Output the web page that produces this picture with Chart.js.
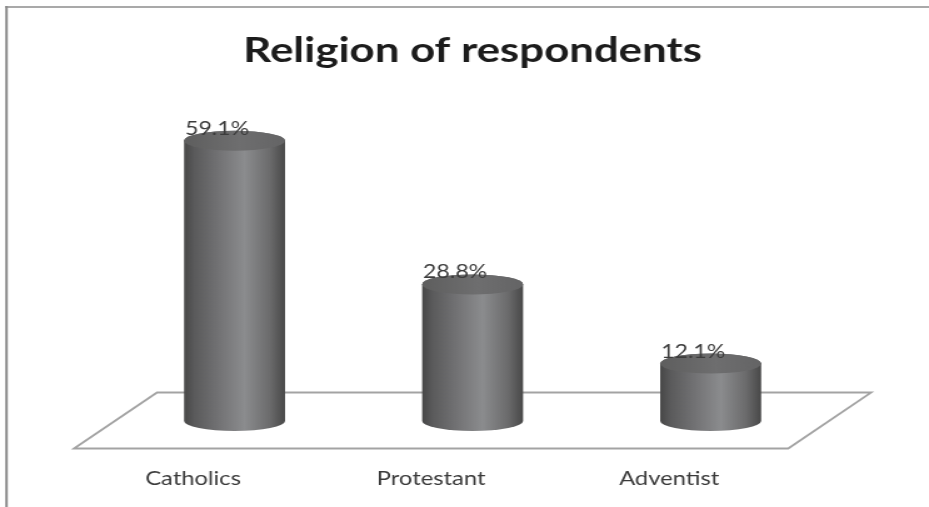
<!DOCTYPE html>
<html>
<head>
<meta charset="utf-8">
<script src="https://cdn.jsdelivr.net/npm/chart.js@4/dist/chart.umd.min.js"></script>
<style>
  html, body { margin: 0; padding: 0; background: #ffffff; overflow: hidden; }
  #wrap { position: relative; width: 929px; height: 507px; overflow: hidden; }
  /* the chart is laid out at a narrower width and widened horizontally */
  #c { display: block; width: 743px; height: 507px; transform: scaleX(1.2503); transform-origin: 0 0; }
</style>
</head>
<body>
<div id="wrap"><canvas id="c" width="743" height="507"></canvas></div>
<script>
// Survey data: share of respondents by religion (percent)
const categories = ['Catholics', 'Protestant', 'Adventist'];
const shares = [59.1, 28.8, 12.1];
const chartTitle = 'Religion of respondents';
const axisMin = 0;
const axisMax = 70;

// Perspective depth of the floor (horizontal / vertical shift of back edge)
const DEPTH_X = 33.2;
const DEPTH_Y = 27.5;
const ELLIPSE_RY = 10;

// Outer frame: left and top edges of the chart box
const framePlugin = {
  id: 'frame',
  beforeDraw(chart) {
    const ctx = chart.ctx;
    ctx.save();
    ctx.strokeStyle = '#8c8c8c';
    ctx.lineWidth = 2;
    ctx.beginPath();
    ctx.moveTo(5.2, 6);
    ctx.lineTo(5.2, chart.height);
    ctx.stroke();
    ctx.lineWidth = 1.5;
    ctx.beginPath();
    ctx.moveTo(4, 7);
    ctx.lineTo(chart.width, 7);
    ctx.stroke();
    ctx.restore();
  }
};

// 3D floor under the cylinders, centred on the zero line
const floorPlugin = {
  id: 'floor',
  beforeDatasetsDraw(chart) {
    const {ctx, chartArea} = chart;
    const y0 = chart.scales.y.getPixelForValue(0);
    const l = chartArea.left, r = chartArea.right;
    ctx.save();
    ctx.strokeStyle = '#a3a3a3';
    ctx.lineWidth = 1.8;
    ctx.beginPath();
    ctx.moveTo(l - DEPTH_X, y0 + DEPTH_Y);
    ctx.lineTo(l + DEPTH_X, y0 - DEPTH_Y - 1);
    ctx.lineTo(r + DEPTH_X, y0 - DEPTH_Y - 1);
    ctx.lineTo(r - DEPTH_X, y0 + DEPTH_Y);
    ctx.closePath();
    ctx.stroke();
    ctx.restore();
  }
};

function drawCylinder(ctx, cx, top, base, w) {
  const rx = w / 2, ry = ELLIPSE_RY;
  const l = cx - rx, r = cx + rx;

  const body = ctx.createLinearGradient(l, 0, r, 0);
  body.addColorStop(0.00, '#474747');
  body.addColorStop(0.10, '#5a5a5b');
  body.addColorStop(0.35, '#737375');
  body.addColorStop(0.60, '#8b8c8e');
  body.addColorStop(0.85, '#6b6b6c');
  body.addColorStop(1.00, '#484848');

  ctx.save();
  ctx.beginPath();
  ctx.moveTo(l, top);
  ctx.lineTo(l, base);
  ctx.ellipse(cx, base, rx, ry, 0, Math.PI, 0, true);
  ctx.lineTo(r, top);
  ctx.ellipse(cx, top, rx, ry, 0, 0, Math.PI, true);
  ctx.closePath();
  ctx.fillStyle = body;
  ctx.fill();

  const cap = ctx.createLinearGradient(l, 0, r, 0);
  cap.addColorStop(0.00, '#5e5e5e');
  cap.addColorStop(0.55, '#6e6e6f');
  cap.addColorStop(1.00, '#646465');
  ctx.beginPath();
  ctx.ellipse(cx, top, rx, ry, 0, 0, Math.PI * 2);
  ctx.fillStyle = cap;
  ctx.fill();
  ctx.restore();
}

// Cylinders drawn over each bar element's geometry
const cylinderPlugin = {
  id: 'cylinders',
  afterDatasetsDraw(chart) {
    const ctx = chart.ctx;
    chart.getDatasetMeta(0).data.forEach(bar => {
      drawCylinder(ctx, bar.x, bar.y, bar.base, bar.width);
    });
  }
};

// Percentage labels above the cylinders
const valueLabelPlugin = {
  id: 'valueLabels',
  afterDatasetsDraw(chart) {
    const ctx = chart.ctx;
    const values = chart.data.datasets[0].data;
    ctx.save();
    ctx.font = '18.5px Lato';
    ctx.fillStyle = '#3c3c3c';
    ctx.textAlign = 'center';
    ctx.textBaseline = 'alphabetic';
    chart.getDatasetMeta(0).data.forEach((bar, i) => {
      ctx.fillText(values[i].toFixed(1) + '%', bar.x - 14, bar.y - 6);
    });
    ctx.restore();
  }
};

new Chart(document.getElementById('c'), {
  type: 'bar',
  data: {
    labels: categories,
    datasets: [{
      data: shares,
      backgroundColor: 'rgba(0,0,0,0)',
      borderWidth: 0,
      categoryPercentage: 1,
      barPercentage: 0.424
    }]
  },
  options: {
    responsive: false,
    devicePixelRatio: 1,
    animation: false,
    layout: { padding: { left: 92.4, right: 79.4, top: 0, bottom: 16.6 } },
    plugins: {
      legend: { display: false },
      tooltip: { enabled: false },
      title: {
        display: true,
        text: chartTitle,
        color: '#1c1c1c',
        font: { family: 'Lato', size: 35, weight: 'bold' },
        padding: { top: 30, bottom: 17 }
      }
    },
    scales: {
      x: {
        offset: true,
        grid: { display: false, drawTicks: true, tickLength: 46.6 },
        border: { display: false },
        ticks: {
          color: '#3a3a3a',
          font: { family: 'Lato', size: 19 },
          padding: 0,
          labelOffset: -DEPTH_X,
          maxRotation: 0
        }
      },
      y: {
        display: false,
        min: axisMin,
        max: axisMax
      }
    }
  },
  plugins: [framePlugin, floorPlugin, cylinderPlugin, valueLabelPlugin]
});
</script>
</body>
</html>
